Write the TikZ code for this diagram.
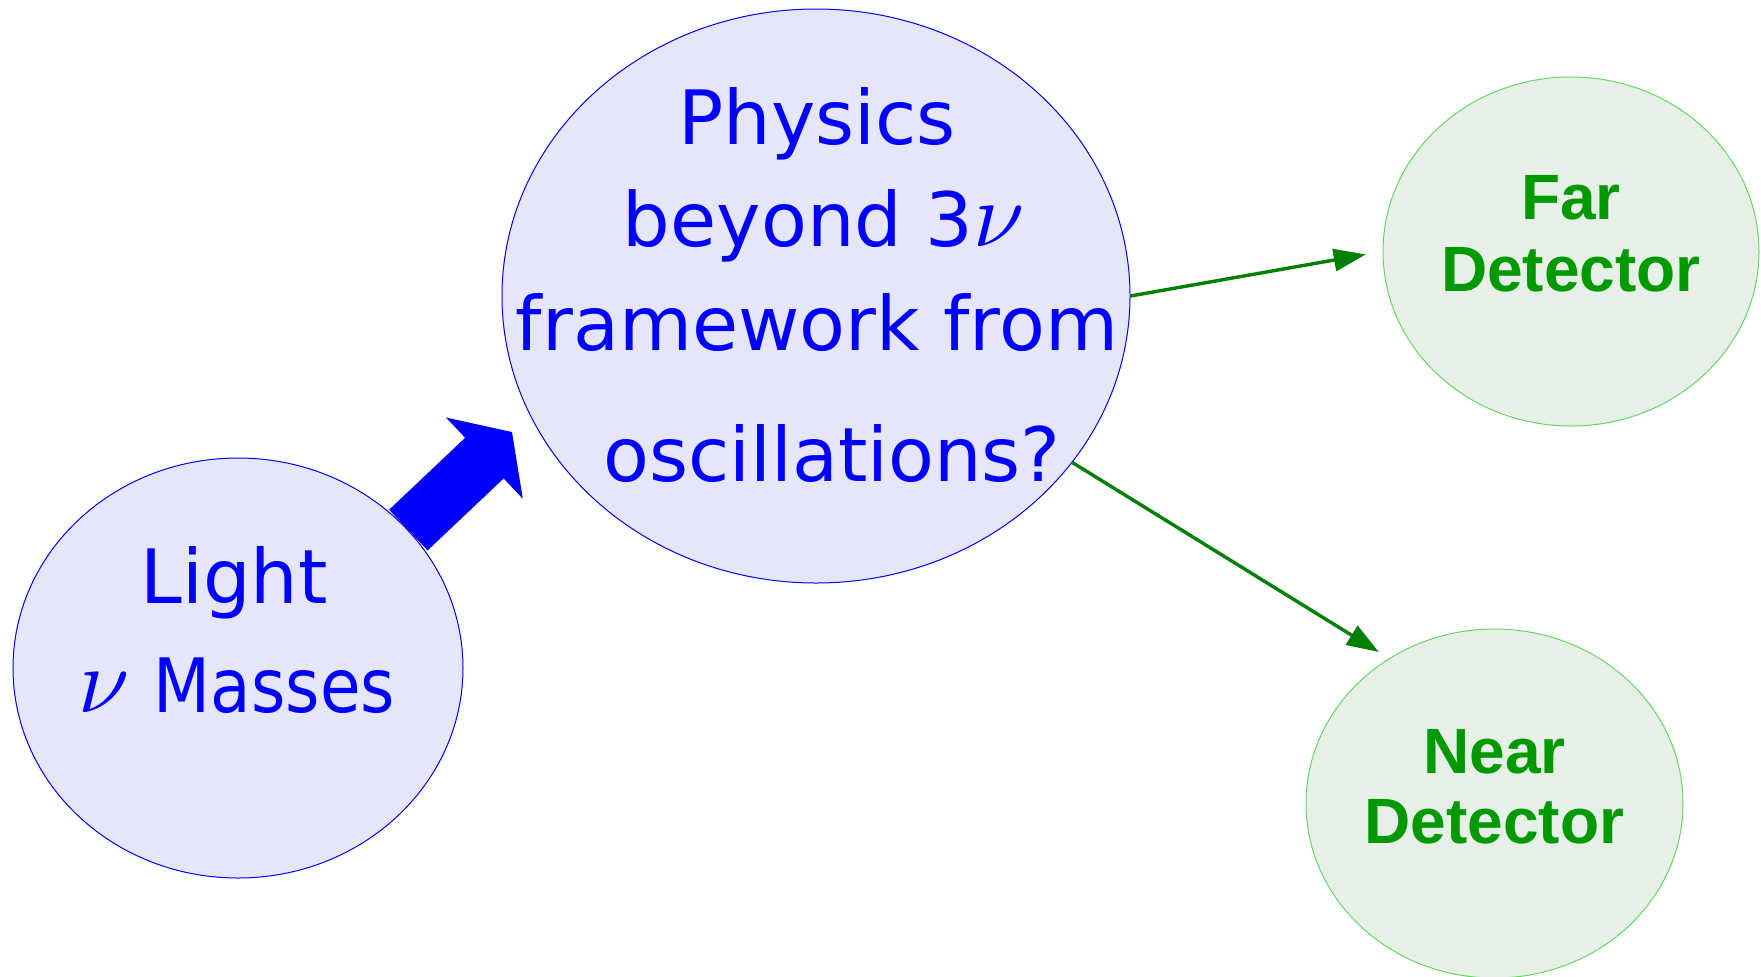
\documentclass[tikz,border=0pt]{standalone}
\usepackage{fontspec}
\usepackage{graphicx}
\setmainfont{DejaVu Sans}
\newfontfamily\detfont{Liberation Sans}
\usetikzlibrary{shapes.geometric,arrows.meta}
\definecolor{lav}{RGB}{230,230,250}
\definecolor{nblue}{RGB}{0,0,255}
\definecolor{gfill}{RGB}{230,240,230}
\definecolor{gline}{RGB}{100,215,100}
\definecolor{gtext}{RGB}{0,153,0}
\definecolor{garrow}{RGB}{0,128,0}
\newcommand{\bignu}{\scalebox{4.6}{\normalsize$\nu$}}
\begin{document}
\begin{tikzpicture}[x=0.5pt,y=-0.5pt,
  blueell/.style={ellipse, draw=nblue, line width=0.5pt, fill=lav, inner sep=0pt},
  greenell/.style={ellipse, draw=gline, line width=0.5pt, fill=gfill, inner sep=0pt},
  comic/.style={text=nblue, font=\fontsize{37.5}{45}\selectfont, inner sep=0pt, anchor=base},
  dettext/.style={text=gtext, font=\detfont\bfseries\fontsize{32}{36}\selectfont, inner sep=0pt, anchor=base},
  thinarrow/.style={draw=garrow, line width=1.7pt, -{Triangle[length=16pt,width=11pt]}},
  fatarrow/.style={draw=nblue, line width=28pt, -{Triangle[length=19pt,width=55pt]}}]
\useasboundingbox (0,0) rectangle (1761,976);
% ellipses
\node[blueell, minimum width=225pt, minimum height=210pt] (light) at (238,668) {};
\node[blueell, minimum width=314pt, minimum height=287pt] (phys) at (816,296) {};
\node[greenell, minimum width=188pt, minimum height=174.5pt] (far) at (1571,251.5) {};
\node[greenell, minimum width=188.5pt, minimum height=174.5pt] (near) at (1494.5,803.5) {};
% texts
\node[comic] (light1) at (234,603) {Light};
\node[comic] (light2) at (237,712) {\bignu\ \scalebox{0.88}[1]{Masses}};
\node[comic] (phys1) at (817,144) {Physics};
\node[comic] (phys2) at (824,246) {beyond 3\bignu};
\node[comic] (phys3) at (817,350) {framework from};
\node[comic] (phys4) at (832,481) {oscillations?};
\node[dettext] (far1) at (1571,219) {Far};
\node[dettext] (far2) at (1571,291) {Detector};
\node[dettext] (near1) at (1494.5,773) {Near};
\node[dettext] (near2) at (1494.5,843) {Detector};
% arrows
\draw[thinarrow, shorten >=8.5pt] (phys.east) -- (far.west);
\draw[thinarrow, shorten >=6pt] (phys.-33.6) -- (near.126);
\coordinate (fattip) at (512,432);
\draw[fatarrow] (light.39) -- (fattip);
\end{tikzpicture}
\end{document}
